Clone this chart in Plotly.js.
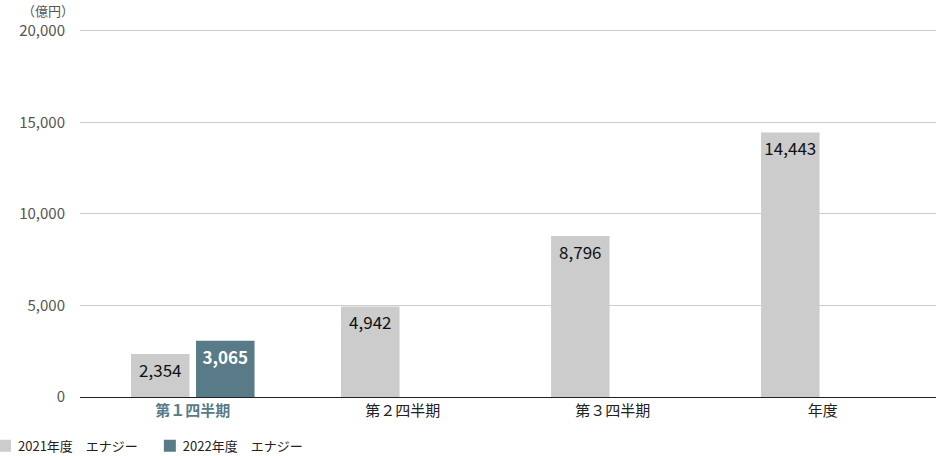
<!DOCTYPE html>
<html>
<head>
<meta charset="utf-8">
<script src="https://cdn.plot.ly/plotly-3.0.1.min.js"></script>
<style>
  body { margin: 0; background: #fff; }
  #chart { width: 936px; height: 456px; }
</style>
</head>
<body>
<div id="chart"></div>
<script>
var categories = ["第１四半期", "第２四半期", "第３四半期", "年度"];
var tickLabels = ["<b>第１四半期</b>", "第２四半期", "第３四半期", "年度"];
var values2021 = [2354, 4942, 8796, 14443];
var values2022 = [3065, null, null, null];
var seriesNames = ["2021年度　エナジー", "2022年度　エナジー"];

var font = "'Noto Sans CJK JP', 'Noto Sans', sans-serif";

var data = [
  {
    type: "bar",
    name: seriesNames[0],
    x: categories,
    y: values2021,
    marker: { color: "#cccccc" },
    texttemplate: "%{y:,}",
    textposition: "inside",
    insidetextanchor: "end",
    textfont: { color: "#111", size: 17, family: font },
    hoverinfo: "none"
  },
  {
    type: "bar",
    name: seriesNames[1],
    x: categories,
    y: values2022,
    marker: { color: "#587b87" },
    texttemplate: "<b>%{y:,}</b>",
    textposition: "inside",
    insidetextanchor: "end",
    textfont: { color: "#ffffff", size: 17, family: font },
    hoverinfo: "none"
  }
];

var layout = {
  width: 936,
  height: 456,
  margin: { t: 27, b: 59, l: 80, r: 0, autoexpand: false },
  paper_bgcolor: "#fff",
  plot_bgcolor: "#fff",
  font: { family: font, color: "#333", size: 14 },
  barmode: "group",
  bargap: 0.381,
  bargroupgap: 0.1,
  showlegend: true,
  legend: {
    orientation: "h",
    x: -0.111, xanchor: "left",
    y: -0.132, yanchor: "middle",
    font: { size: 13, color: "#222" },
    itemwidth: 30,
    traceorder: "normal"
  },
  xaxis: {
    range: [-0.537, 3.539],
    tickvals: categories,
    ticktext: tickLabels,
    showline: true,
    linecolor: "#222",
    linewidth: 1,
    ticks: "",
    tickfont: { size: 15, color: "#222" },
    fixedrange: true
  },
  yaxis: {
    range: [0, 20200],
    tickvals: [0, 5000, 10000, 15000, 20000],
    tickformat: ",",
    gridcolor: "#cccccc",
    gridwidth: 1,
    zeroline: false,
    ticks: "",
    ticklabelstandoff: 14,
    tickfont: { size: 15, color: "#555" },
    fixedrange: true
  },
  annotations: [
    {
      xref: "paper", yref: "paper",
      x: -0.006, y: 1.045,
      xanchor: "right", yanchor: "middle",
      borderpad: 0,
      text: "（億円）",
      showarrow: false,
      font: { size: 13, color: "#555" }
    }
  ]
};

Plotly.newPlot("chart", data, layout, { displayModeBar: false, staticPlot: true }).then(function () {
  // first category label is tinted like the 2022 bar
  var t = document.querySelectorAll(".xtick text");
  if (t.length) t[0].style.fill = "#587b87";
  // pull legend labels closer to their swatches
  document.querySelectorAll(".legendtext").forEach(function (el) {
    el.setAttribute("x", 33);
  });
});
</script>
</body>
</html>
